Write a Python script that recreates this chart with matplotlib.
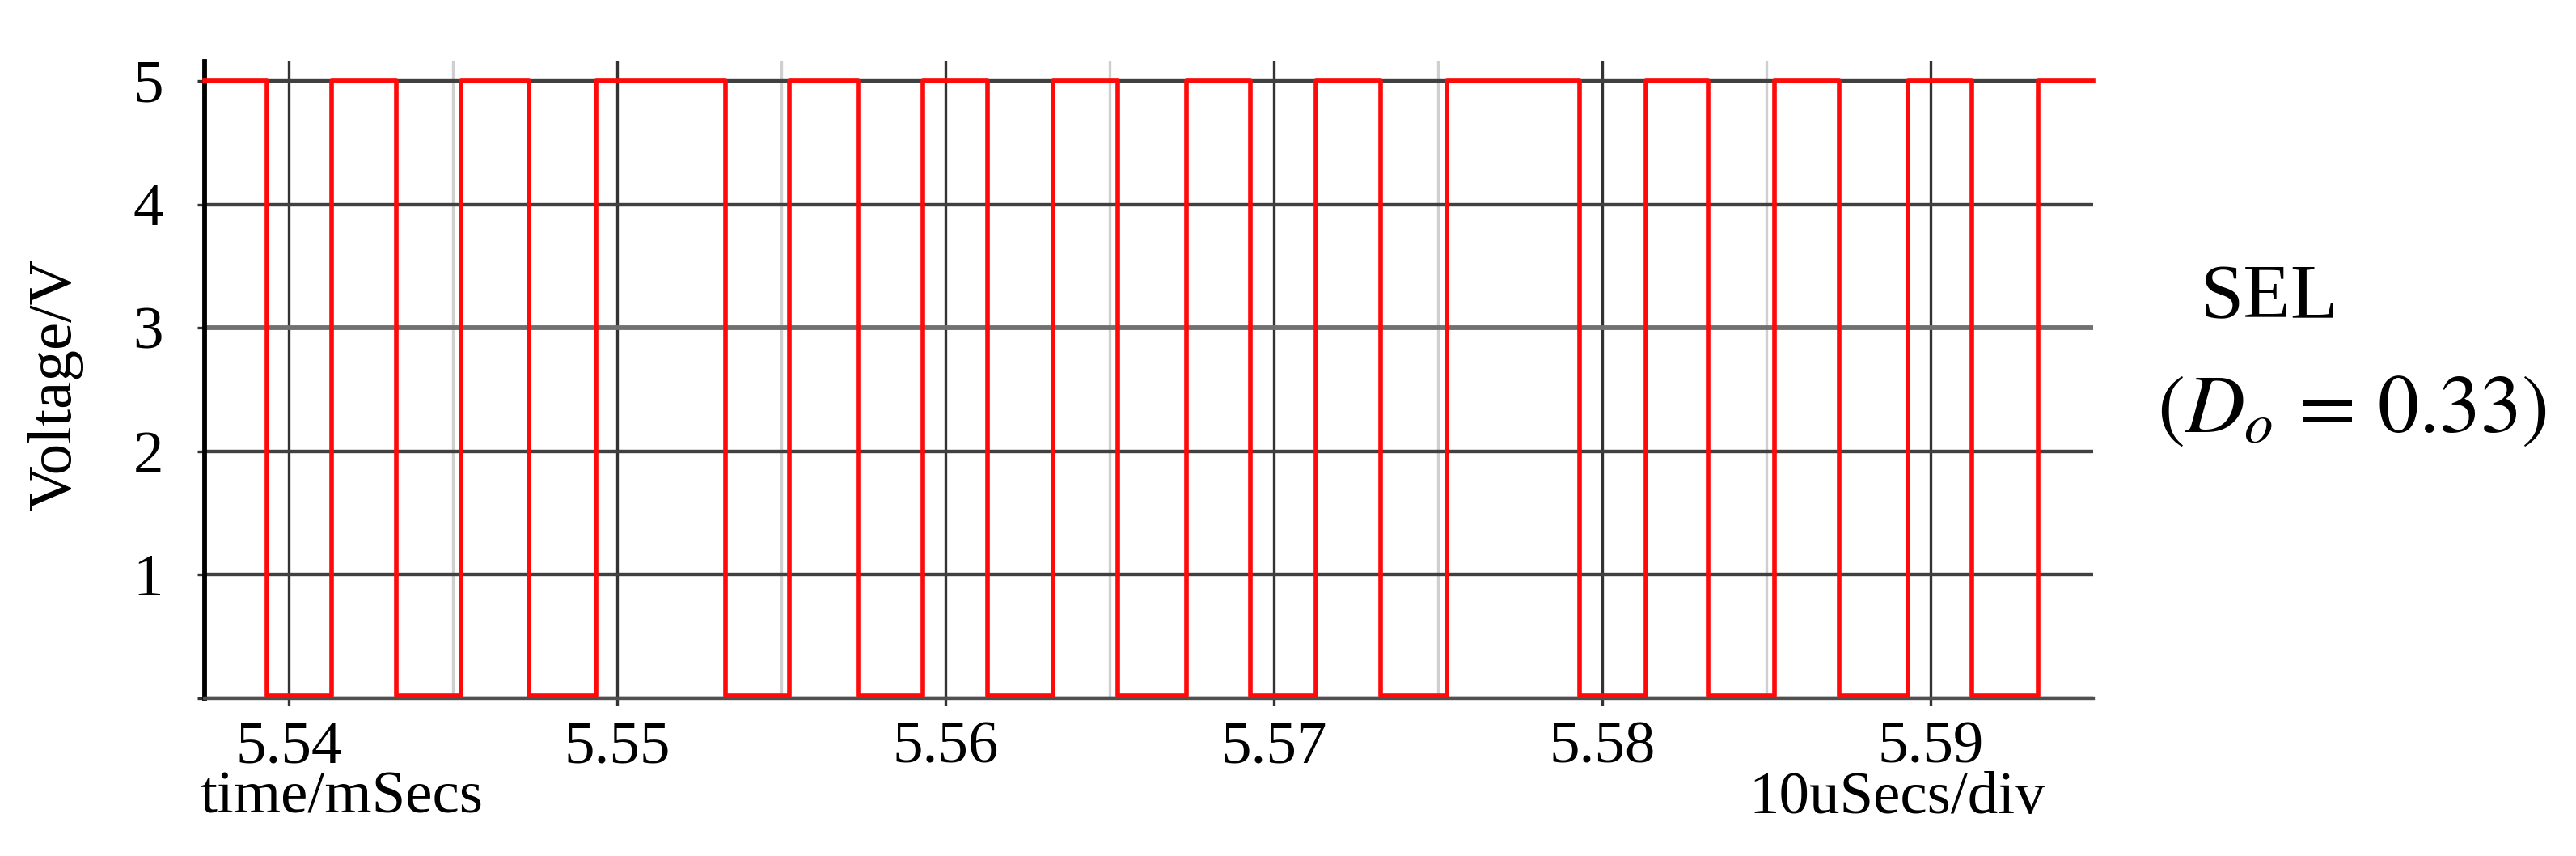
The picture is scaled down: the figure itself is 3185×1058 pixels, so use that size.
import matplotlib
matplotlib.use('Agg')
import matplotlib.pyplot as plt

# ---------------- dados ----------------
# instantes das bordas do sinal SEL (mSecs), comeca em nivel alto
t_inicio = 5.53744
t_fim = 5.59495
bordas = [5.53933, 5.54130, 5.54328, 5.54526, 5.54731, 5.54935,
          5.55330, 5.55526, 5.55733, 5.55932, 5.56129, 5.56327,
          5.56524, 5.56733, 5.56929, 5.57128, 5.57325, 5.57526,
          5.57932, 5.58132, 5.58323, 5.58524, 5.58721, 5.58931,
          5.59126, 5.59327]
nivel_alto = 5.0
nivel_baixo = 0.02

x_ticks = [5.54, 5.55, 5.56, 5.57, 5.58, 5.59]
x_ticks_menor = [5.545, 5.555, 5.565, 5.575, 5.585]
y_ticks = [0, 1, 2, 3, 4, 5]
y_labels = ['', '1', '2', '3', '4', '5']

# monta a forma de onda quadrada (nivel alterna a cada borda)
tempo = [t_inicio] + bordas + [t_fim]
volts = []
nivel = nivel_alto
volts.append(nivel)
for b in bordas:
    nivel = nivel_baixo if nivel == nivel_alto else nivel_alto
    volts.append(nivel)
volts.append(nivel)

# ---------------- grafico ----------------
plt.rcParams['font.family'] = ['Liberation Serif', 'DejaVu Serif']
plt.rcParams['mathtext.fontset'] = 'stix'

fig = plt.figure(figsize=(3185 / 300, 1058 / 300), dpi=300)
ax = fig.add_axes([0.0794, 0.1843, 0.7332, 0.7439])

ax.step(tempo, volts, where='post', color='#ff0a0a', lw=1.35, zorder=5, clip_on=False)

ax.set_xlim(t_inicio, t_fim)
ax.set_ylim(0, 5.157)
ax.set_xticks(x_ticks)
ax.set_xticklabels([f'{v:.2f}' for v in x_ticks])
ax.set_xticks(x_ticks_menor, minor=True)
ax.set_yticks(y_ticks)
ax.set_yticklabels(y_labels)

ax.grid(True, which='major', axis='x', color='#333333', lw=0.8)
ax.grid(True, which='minor', axis='x', color='#cfcfcf', lw=0.8)
ax.grid(True, which='major', axis='y', color='#404040', lw=1.05)
for g, v in zip(ax.get_ygridlines(), y_ticks):
    if v == 3:
        g.set_color('#707070')
        g.set_linewidth(1.4)

ax.tick_params(axis='both', which='major', direction='out', length=2.2, width=0.8,
               color='#333333', labelsize=18)
ax.tick_params(axis='x', which='minor', length=0)
ax.tick_params(axis='y', pad=10)
ax.tick_params(axis='x', pad=4.5)

for s in ['top', 'right']:
    ax.spines[s].set_visible(False)
ax.spines['left'].set_linewidth(1.4)
ax.spines['left'].set_color('black')
ax.spines['bottom'].set_color('#505050')
ax.spines['bottom'].set_linewidth(1.05)

fig.text(0.0215, 0.551, 'Voltage/V', rotation=90, fontsize=18.5, ha='center', va='center')
fig.text(0.0776, 0.067, 'time/mSecs', fontsize=18, ha='left', va='center')
fig.text(0.794, 0.067, '10uSecs/div', fontsize=18, ha='right', va='center')
fig.text(0.881, 0.650, 'SEL', fontsize=23, ha='center', va='center')
fig.text(0.913, 0.518, r'$(D_o\,=\,0.33)$', fontsize=24.5, ha='center', va='center')

plt.savefig('out.png', dpi=300)
